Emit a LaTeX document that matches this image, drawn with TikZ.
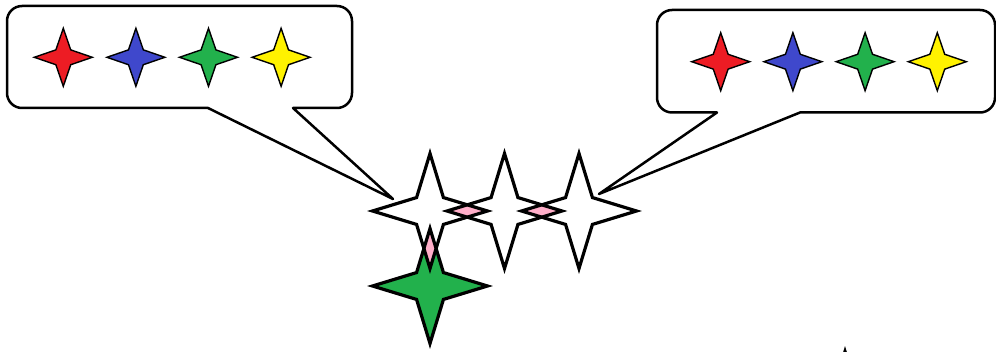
\documentclass[tikz,border=0pt]{standalone}

\definecolor{sred}{HTML}{ED1C24}
\definecolor{sblue}{HTML}{3F48CC}
\definecolor{sgreen}{HTML}{22B14C}
\definecolor{syellow}{HTML}{FFF200}
\definecolor{overlap}{HTML}{FFAEC9}

% four pointed star round the origin: outer and inner radius
\newcommand{\sparkle}[2]{(0:#1) -- (45:#2) -- (90:#1) -- (135:#2) -- (180:#1) -- (225:#2) -- (270:#1) -- (315:#2) -- cycle}

\begin{document}
\begin{tikzpicture}[x=1pt,y=-1pt,
  bigstar/.style={draw,line width=3.2pt,miter limit=10},
  smallstar/.style={draw,line width=1.4pt},
  balloon/.style={draw,fill=white,line width=2.5pt,line join=round}]
  \useasboundingbox (0,0) rectangle (996,352);
  \clip (0,0) rectangle (996,352);

  \coordinate (s1) at (430,211);
  \coordinate (s2) at (504.5,211);
  \coordinate (s3) at (579,211);
  \coordinate (g) at (430,286);
  \coordinate (cut) at (845,409);
  \coordinate (tipL) at (393,199);
  \coordinate (tipR) at (599,194);

  % speech balloons
  \draw[balloon,rounded corners=15pt] (293,108) -- (352,108) -- (352,6) -- (7,6) -- (7,108) [sharp corners] -- (208,108) -- (tipL) -- cycle;
  \draw[balloon,rounded corners=15pt] (800,112.5) -- (995,112.5) -- (995,10) -- (657,10) -- (657,112.5) [sharp corners] -- (717,112.5) -- (tipR) -- cycle;

  \foreach \col [count=\i from 0] in {sred,sblue,sgreen,syellow}{
    \draw[smallstar,fill=\col,shift={(63.3+72.6*\i,57.3)}] \sparkle{29}{10.5};
    \draw[smallstar,fill=\col,shift={(720.7+72.2*\i,61.7)}] \sparkle{29}{10.5};
  }

  % big stars
  \foreach \p in {s1,s2,s3,cut} \fill[white,shift={(\p)}] \sparkle{57.5}{19};
  \fill[sgreen,shift={(g)}] \sparkle{57.5}{19};
  \foreach \a/\b in {s1/s2,s2/s3,s1/g}{
    \begin{scope}
      \clip[shift={(\a)}] \sparkle{57.5}{19};
      \fill[overlap,shift={(\b)}] \sparkle{57.5}{19};
    \end{scope}
  }
  \foreach \p in {s1,s2,s3,g,cut} \draw[bigstar,shift={(\p)}] \sparkle{57.5}{19};
\end{tikzpicture}
\end{document}
